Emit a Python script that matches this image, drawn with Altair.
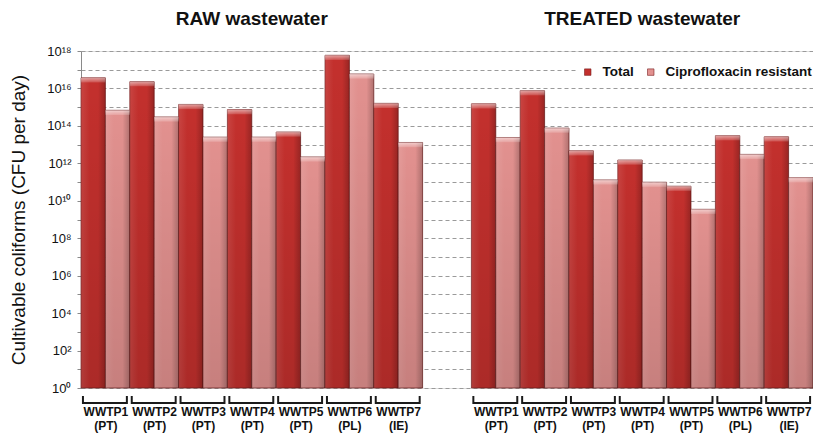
import json
import altair as alt
import pandas as pd

# ---------------- data ----------------
sites = ["WWTP1", "WWTP2", "WWTP3", "WWTP4", "WWTP5", "WWTP6", "WWTP7"]
countries = ["PT", "PT", "PT", "PT", "PT", "PL", "IE"]
series_names = ["Total", "Ciprofloxacin resistant"]
panels = ["RAW wastewater", "TREATED wastewater"]

raw_total = [3.7e16, 2.3e16, 1.4e15, 7.4e14, 4.7e13, 5.9e17, 1.6e15]
raw_cipro = [6.8e14, 3.0e14, 2.5e13, 2.5e13, 2.2e12, 5.9e16, 1.3e13]
treated_total = [1.5e15, 7.6e15, 4.7e12, 1.5e12, 6.0e10, 3.0e13, 2.6e13]
treated_cipro = [2.4e13, 7.6e13, 1.3e11, 9.8e10, 3.5e9, 3.0e12, 1.7e11]

y_tick_values = [10 ** k for k in range(0, 19)]
y_tick_labels = ["10⁰", "", "10²", "", "10⁴", "", "10⁶", "", "10⁸", "",
                 "10¹⁰", "", "10¹²", "", "10¹⁴", "", "10¹⁶", "", "10¹⁸"]

colors = ["#C3302D", "#E2918F"]

# ---------------- tables ----------------
n = len(sites)
n_slots = 2 * n + 1  # one empty slot between the two panels
rows = []
for p, (tot, cip) in enumerate([(raw_total, raw_cipro), (treated_total, treated_cipro)]):
    for i, site in enumerate(sites):
        for s, vals in enumerate([tot, cip]):
            rows.append(dict(panel=panels[p], site=site, country=countries[i],
                             series=series_names[s], s=s,
                             slot=p * (n + 1) + i, value=vals[i]))
bars = pd.DataFrame(rows)

groups = bars[["slot", "site", "country"]].drop_duplicates().reset_index(drop=True)
titles = pd.DataFrame({"panel": panels,
                       "center": [p * (n + 1) + n / 2 for p in range(len(panels))]})

label_table = [[""] for _ in range(n_slots)]
for _, r in groups.iterrows():
    label_table[int(r.slot)] = [r.site, "(" + r.country + ")"]
x_label_expr = json.dumps(label_table) + "[floor(datum.value)]"
y_label_expr = json.dumps(y_tick_labels, ensure_ascii=False) + "[round(log(datum.value)/LN10)]"

W, H = 732, 337
FONT = "Liberation Sans"

xscale = alt.Scale(domain=[0, n_slots], nice=False, zero=False)
yscale = alt.Scale(type="log", domain=[1, 1e18], nice=False)

x_axis = alt.Axis(values=[float(s) + 0.5 for s in groups.slot], labelExpr=x_label_expr,
                  domain=False, ticks=False, grid=False, labelPadding=18,
                  labelFontSize=12, labelFontWeight="bold", labelLineHeight=14,
                  labelFont=FONT, labelColor="#111", labelOverlap=False,
                  labelFlush=False, title=None)
y_axis = alt.Axis(values=y_tick_values, labelExpr=y_label_expr, grid=True,
                  gridDash=[4, 3], gridColor="#9a9a9a", gridWidth=1,
                  domainColor="#8a8a8a", tickColor="#8a8a8a", tickSize=4,
                  labelFontSize=13, labelFont=FONT, labelColor="#111",
                  labelPadding=6, labelOverlap=False,
                  title="Cultivable coliforms (CFU per day)", titleFont=FONT,
                  titleFontSize=19, titleFontWeight="normal", titleColor="#111",
                  titleAngle=-90, titleX=-63, titleY=H / 2, titleAlign="center",
                  titleBaseline="middle")

base = alt.Chart(bars).transform_calculate(
    x0="datum.slot + datum.s * 0.5",
    x1="datum.slot + datum.s * 0.5 + 0.5",
    base="1",
    cap="datum.value / pow(10, 0.25)",
)

bar_layer = base.mark_rect(stroke="#6e1a1a", strokeWidth=0.7).encode(
    x=alt.X("x0:Q", scale=xscale, axis=x_axis),
    x2="x1:Q",
    y=alt.Y("value:Q", scale=yscale, axis=y_axis),
    y2="base:Q",
    color=alt.Color("series:N",
                    scale=alt.Scale(domain=series_names, range=colors),
                    legend=alt.Legend(orient="none", legendX=497, legendY=11,
                                      direction="horizontal", title=None,
                                      symbolType="square", symbolSize=42,
                                      symbolStrokeColor="#7a2020",
                                      symbolStrokeWidth=0.6,
                                      labelFont=FONT, labelFontSize=13.5,
                                      labelFontWeight="bold", labelColor="#111",
                                      labelOffset=8, columnPadding=10,
                                      fillColor="white", padding=3)),
)

h_shade = alt.Gradient(gradient="linear", x1=0, x2=1, y1=0, y2=0, stops=[
    alt.GradientStop(color="rgba(255,255,255,0.10)", offset=0),
    alt.GradientStop(color="rgba(255,255,255,0.0)", offset=0.35),
    alt.GradientStop(color="rgba(0,0,0,0.0)", offset=0.7),
    alt.GradientStop(color="rgba(0,0,0,0.22)", offset=1),
])
v_shade = alt.Gradient(gradient="linear", x1=0, x2=0, y1=0, y2=1, stops=[
    alt.GradientStop(color="rgba(0,0,0,0.0)", offset=0),
    alt.GradientStop(color="rgba(0,0,0,0.12)", offset=1),
])
cap_shade = alt.Gradient(gradient="linear", x1=0, x2=0, y1=0, y2=1, stops=[
    alt.GradientStop(color="rgba(255,255,255,0.55)", offset=0),
    alt.GradientStop(color="rgba(255,255,255,0.15)", offset=1),
])

shade1 = base.mark_rect(fill=h_shade).encode(x="x0:Q", x2="x1:Q", y="value:Q", y2="base:Q")
shade2 = base.mark_rect(fill=v_shade).encode(x="x0:Q", x2="x1:Q", y="value:Q", y2="base:Q")
cap = base.mark_rect(fill=cap_shade).encode(x="x0:Q", x2="x1:Q", y="value:Q", y2="cap:Q")

gbase = alt.Chart(groups).transform_calculate(
    bl="datum.slot + 0.04", br="datum.slot + 0.94")
br_h = gbase.mark_rule(color="#1a1a1a", strokeWidth=2).encode(
    x="bl:Q", x2="br:Q", y=alt.value(H + 15))
br_l = gbase.mark_rule(color="#1a1a1a", strokeWidth=2).encode(
    x="bl:Q", y=alt.value(H + 8), y2=alt.value(H + 16))
br_r = gbase.mark_rule(color="#1a1a1a", strokeWidth=2).encode(
    x="br:Q", y=alt.value(H + 8), y2=alt.value(H + 16))

title_layer = alt.Chart(titles).mark_text(
    font=FONT, fontSize=19, fontWeight="bold", color="#111", baseline="middle"
).encode(x="center:Q", y=alt.value(-32), text="panel:N")

chart = alt.layer(bar_layer, shade1, shade2, cap, br_h, br_l, br_r, title_layer).properties(
    width=W, height=H,
    autosize=alt.AutoSizeParams(type="none"),
    padding={"left": 73, "top": 43, "right": 0, "bottom": 45},
).configure_view(stroke=None).configure(background="white")

chart.save("out.html", embed_options={"renderer": "svg", "actions": False})
